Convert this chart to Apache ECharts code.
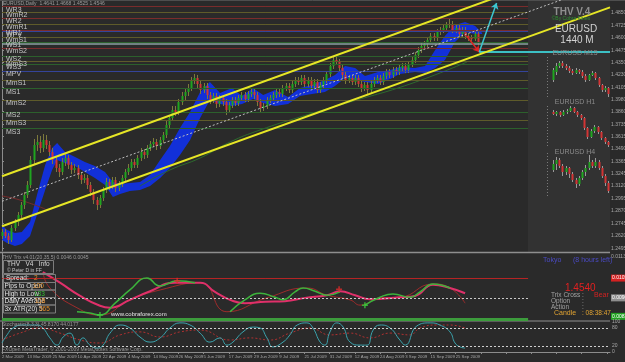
<!DOCTYPE html>
<html><head><meta charset="utf-8">
<script src="https://cdn.jsdelivr.net/npm/echarts@6/dist/echarts.min.js"></script>
<style>html,body{margin:0;padding:0;background:#2a2a2a}#c{width:625px;height:362px}</style>
</head><body><div id="c"></div><script>
// ---------- data ----------
const dateTicks = ["2 Mar 2009","13 Mar 2009","25 Mar 2009","10 Apr 2009","22 Apr 2009","4 May 2009","14 May 2009","26 May 2009","5 Jun 2009","17 Jun 2009","29 Jun 2009","9 Jul 2009","21 Jul 2009","31 Jul 2009","12 Aug 2009","24 Aug 2009","3 Sep 2009","15 Sep 2009","25 Sep 2009"];
const priceTicks = [1.2495,1.2620,1.2745,1.2870,1.2995,1.3120,1.3245,1.3365,1.3490,1.3615,1.3735,1.3860,1.3980,1.4105,1.4230,1.4350,1.4475,1.4600,1.4725,1.4850];
// daily EURUSD candles [open, close, low, high]
const candles = [
[1.2617,1.2657,1.2587,1.2687],[1.2657,1.2617,1.2597,1.2687],[1.2617,1.2577,1.2537,1.2647],[1.2577,1.2697,1.2557,1.2727],
[1.2697,1.2757,1.2667,1.2787],[1.2757,1.2827,1.2717,1.2857],[1.2827,1.2927,1.2797,1.2957],[1.2927,1.3027,1.2887,1.3057],
[1.3027,1.3127,1.2997,1.3167],[1.3127,1.3377,1.3097,1.3417],[1.3377,1.3527,1.3337,1.3587],[1.3527,1.3557,1.3467,1.3627],
[1.3557,1.3497,1.3447,1.3617],[1.3497,1.3577,1.3457,1.3637],[1.3577,1.3527,1.3487,1.3627],[1.3527,1.3457,1.3417,1.3567],
[1.3457,1.3377,1.3337,1.3497],[1.3377,1.3297,1.3257,1.3417],[1.3297,1.3257,1.3207,1.3337],[1.3257,1.3357,1.3227,1.3397],
[1.3357,1.3397,1.3317,1.3437],[1.3397,1.3327,1.3287,1.3427],[1.3327,1.3277,1.3237,1.3357],[1.3277,1.3297,1.3247,1.3337],
[1.3297,1.3227,1.3187,1.3327],[1.3227,1.3177,1.3137,1.3257],[1.3177,1.3197,1.3147,1.3237],[1.3197,1.3127,1.3087,1.3227],
[1.3127,1.3057,1.3017,1.3157],[1.3057,1.2977,1.2937,1.3087],[1.2977,1.2927,1.2877,1.3007],[1.2927,1.2997,1.2897,1.3027],
[1.2997,1.3077,1.2967,1.3107],[1.3077,1.3157,1.3047,1.3197],[1.3157,1.3117,1.3077,1.3187],[1.3117,1.3177,1.3087,1.3207],
[1.3177,1.3097,1.3057,1.3207],[1.3097,1.3137,1.3067,1.3167],[1.3137,1.3197,1.3107,1.3227],[1.3197,1.3257,1.3167,1.3287],
[1.3257,1.3297,1.3227,1.3337],[1.3297,1.3357,1.3267,1.3387],[1.3357,1.3327,1.3297,1.3387],[1.3327,1.3397,1.3297,1.3427],
[1.3397,1.3457,1.3367,1.3497],[1.3457,1.3427,1.3387,1.3487],[1.3427,1.3497,1.3397,1.3527],[1.3497,1.3537,1.3467,1.3567],
[1.3537,1.3557,1.3507,1.3597],[1.3557,1.3517,1.3477,1.3587],[1.3517,1.3577,1.3487,1.3607],[1.3577,1.3627,1.3547,1.3657],
[1.3627,1.3727,1.3597,1.3767],[1.3727,1.3797,1.3697,1.3827],[1.3797,1.3877,1.3767,1.3917],[1.3877,1.3857,1.3817,1.3917],
[1.3857,1.3957,1.3827,1.3987],[1.3957,1.4017,1.3927,1.4057],[1.4017,1.4057,1.3977,1.4097],[1.4057,1.4097,1.4017,1.4137],
[1.4097,1.4177,1.4067,1.4207],[1.4177,1.4197,1.4137,1.4237],[1.4197,1.4137,1.4097,1.4227],[1.4137,1.4077,1.4037,1.4167],
[1.4077,1.4117,1.4047,1.4147],[1.4117,1.4027,1.3987,1.4147],[1.4027,1.3977,1.3937,1.4057],[1.3977,1.4017,1.3947,1.4047],
[1.4017,1.3937,1.3897,1.4047],[1.3937,1.3997,1.3907,1.4027],[1.3997,1.3957,1.3917,1.4027],[1.3957,1.3877,1.3827,1.3987],
[1.3877,1.3927,1.3847,1.3957],[1.3927,1.3977,1.3897,1.4007],[1.3977,1.3947,1.3917,1.4007],[1.3947,1.3997,1.3917,1.4027],
[1.3997,1.4027,1.3967,1.4057],[1.4027,1.3987,1.3957,1.4057],[1.3987,1.4037,1.3957,1.4067],[1.4037,1.4057,1.4007,1.4087],
[1.4057,1.4027,1.3987,1.4087],[1.4027,1.3957,1.3917,1.4057],[1.3957,1.3897,1.3857,1.3987],[1.3897,1.3917,1.3867,1.3947],
[1.3917,1.3977,1.3887,1.4007],[1.3977,1.3997,1.3947,1.4027],[1.3997,1.4027,1.3967,1.4057],[1.4027,1.4057,1.3997,1.4087],
[1.4057,1.4037,1.4007,1.4087],[1.4037,1.4097,1.4007,1.4127],[1.4097,1.4117,1.4067,1.4147],[1.4117,1.4077,1.4047,1.4147],
[1.4077,1.4137,1.4047,1.4167],[1.4137,1.4177,1.4107,1.4207],[1.4177,1.4157,1.4127,1.4207],[1.4157,1.4197,1.4127,1.4227],
[1.4197,1.4137,1.4107,1.4227],[1.4137,1.4177,1.4107,1.4207],[1.4177,1.4117,1.4087,1.4207],[1.4117,1.4157,1.4087,1.4187],
[1.4157,1.4077,1.4047,1.4187],[1.4077,1.4127,1.4047,1.4157],[1.4127,1.4177,1.4097,1.4207],[1.4177,1.4237,1.4147,1.4267],
[1.4237,1.4317,1.4207,1.4347],[1.4317,1.4377,1.4287,1.4407],[1.4377,1.4357,1.4327,1.4417],[1.4357,1.4297,1.4267,1.4387],
[1.4297,1.4227,1.4187,1.4327],[1.4227,1.4177,1.4137,1.4257],[1.4177,1.4197,1.4147,1.4227],[1.4197,1.4157,1.4127,1.4227],
[1.4157,1.4197,1.4127,1.4227],[1.4197,1.4137,1.4107,1.4227],[1.4137,1.4097,1.4057,1.4167],[1.4097,1.4127,1.4067,1.4157],
[1.4127,1.4077,1.4037,1.4157],[1.4077,1.4137,1.4047,1.4167],[1.4137,1.4177,1.4107,1.4207],[1.4177,1.4197,1.4147,1.4227],
[1.4197,1.4157,1.4127,1.4227],[1.4157,1.4217,1.4127,1.4247],[1.4217,1.4257,1.4187,1.4287],[1.4257,1.4227,1.4197,1.4287],
[1.4227,1.4277,1.4197,1.4307],[1.4277,1.4257,1.4227,1.4307],[1.4257,1.4297,1.4227,1.4327],[1.4297,1.4317,1.4267,1.4347],
[1.4317,1.4277,1.4247,1.4347],[1.4277,1.4337,1.4247,1.4367],[1.4337,1.4377,1.4307,1.4407],[1.4377,1.4427,1.4347,1.4457],
[1.4427,1.4477,1.4397,1.4507],[1.4477,1.4517,1.4447,1.4547],[1.4517,1.4537,1.4487,1.4567],[1.4537,1.4577,1.4507,1.4607],
[1.4577,1.4617,1.4547,1.4647],[1.4617,1.4597,1.4567,1.4647],[1.4597,1.4657,1.4567,1.4687],[1.4657,1.4677,1.4627,1.4707],
[1.4677,1.4697,1.4647,1.4727],[1.4697,1.4727,1.4667,1.4757],[1.4727,1.4737,1.4697,1.4787],[1.4737,1.4677,1.4647,1.4767],
[1.4677,1.4697,1.4647,1.4727],[1.4697,1.4637,1.4607,1.4727],[1.4637,1.4677,1.4607,1.4707],[1.4677,1.4617,1.4587,1.4707],
[1.4617,1.4597,1.4567,1.4647],[1.4597,1.4587,1.4557,1.4627],[1.4587,1.4641,1.4567,1.4667],[1.4641,1.4546,1.4525,1.4668]
];
// blue cloud band
const cloudIdx = [0,1.6,4.1,6.3,8.9,11.1,13.7,15.9,17.5,20,23.2,26.3,29.5,32.7,35.2,37.5,40.6,43.8,47,50.2,53.3,56.5,59.7,62.9,66,69.2,73,76.2,79.7,82.9,86.7,90.8,94.6,98.4,102.5,105.7,108.9,112.1,115.2,119.4,123.2,126.3,131.1,134.3,137.5,140.6,143.8,147,150.2,152.4];
const cloudUp = [1.2727,1.2677,1.2647,1.2657,1.2757,1.3027,1.3327,1.3497,1.3547,1.3457,1.3407,1.3357,1.3317,1.3257,1.3157,1.3137,1.3147,1.3157,1.3227,1.3377,1.3517,1.3697,1.3857,1.4057,1.4157,1.4047,1.4097,1.4017,1.4097,1.4027,1.4077,1.4007,1.4097,1.4127,1.4177,1.4227,1.4317,1.4297,1.4217,1.4257,1.4277,1.4307,1.4297,1.4317,1.4477,1.4617,1.4727,1.4757,1.4717,1.4647];
const cloudLo = [1.2577,1.2547,1.2517,1.2537,1.2617,1.2827,1.3077,1.3277,1.3377,1.3347,1.3317,1.3257,1.3197,1.3127,1.3007,1.3037,1.3067,1.3077,1.3117,1.3197,1.3297,1.3427,1.3577,1.3797,1.3977,1.3937,1.3917,1.3937,1.3987,1.3947,1.3917,1.3937,1.4017,1.4037,1.4057,1.4117,1.4197,1.4177,1.4157,1.4137,1.4187,1.4237,1.4257,1.4247,1.4297,1.4377,1.4557,1.4657,1.4637,1.4637];
const maGreenIdx = [43.8,53.3,62.9,72.4,81.9,94.6,110.5,129.5,147.6];
const maGreen = [1.3117,1.3277,1.3397,1.3557,1.3677,1.3807,1.3957,1.4137,1.4357];
const maRedIdx = [0,5.7,13.7];
const maRed = [1.3017,1.2977,1.2887];
const channelIdx = [0,193];
const channelUpper = [1.3214,1.5415];
const channelMid = [1.2964,1.5153];
const channelLower = [1.2714,1.4903];
const pivotNames = ['WR3','WmR2','WR2','WmR1','WR1','WPV','WmS1','WS1','WmS2','WS2','WmS3','WS3','MPV','MmS1','MS1','MmS2','MS2','MmS3','MS3'];
const pivotValues = [1.4912,1.4857,1.4797,1.4737,1.4677,1.4662,1.4607,1.4557,1.4497,1.4417,1.4367,1.4337,1.4267,1.4177,1.4092,1.3977,1.3857,1.3777,1.3692];
const pivotKinds = ['r','o','r','o','r','b','o','g','r','g','o','g','b','o','g','o','g','o','g'];
const bidPrice = 1.4540;
const targetLevel = 1.4455;
const arrowDownIdx = [147.5,151.5], arrowDownVal = [1.4617,1.4457];
const arrowUpIdx = [151.5,157], arrowUpVal = [1.4457,1.4947];
// THV Trix panel
const trixPinkIdx = [13,18.4,24.8,31.1,34.3,40.6,47,54.9,62.9,67.6,72.4,77.1,83.5,89.8,96.2,103.2,107.3,112.1,116.8,126.3,131.1,136.8,142.2,147];
const trixPink = [71,55,35,20,17,29,42,55,55,41,29,24,26,27,32,36,42,36,30,33,35,52,47,39];
const trixGreenIdx = [23.8,27.9,31.1,35.9,40.6,46,50.2,55.6,61.3,66,72.4,77.1,81.9,86.7,89.2,93,95.6,99.4,103.2,107.3,111,115.2,120,124.1,129.5,132.7,136.8,142.2];
const trixGreen = [11,9,6,24,44,62,50,58,55,'-',11,29,39,33,29,41,47,42,36,41,'-',21,33,38,33,41,53,47];
const trixRedIdx = [13,15.2,23.8,31.1,40.6,50.2,62.9,71.4,84.1,96.8,103.2,110.5,113.7,120,126.3,136.8,142.2,147];
const trixRed = [71,47,17,6,29,44,55,11,32,47,36,29,21,32,33,53,47,24];
const trixCrossIdx = [31.1,55.6,107,115.2];
const trixCrossVal = [6,58,45,21];
const trixCrossUp = [true,false,false,true];
const trixLevels = [62,32,0];
const trixAxisVals = [95,62,32,4];
const trixAxisText = ['0.01133','0.01058','0.00906','0.00829'];
// Stochastic panel
const stochIdx = [0,1.6,3.5,6.7,11.1,13,15.2,17.5,19.4,21.6,23.8,25.7,27.9,30.2,32.1,34.3,37.5,40.6,43.8,47,50.2,53.3,56.5,59.7,62.9,66,69.2,71.4,73.3,76.5,79.7,81.9,84.1,86,89.2,91.4,93.7,96.8,98.7,101,102.5,104.1,106.3,108.3,110.5,113.7,115.9,117.8,120,123.2,126.3,128,131.7,135.9,139,142.2,143.8,145.4,147];
const stochMain = [30,57,80,90,90,80,47,23,50,63,23,47,23,13,23,63,90,80,50,33,47,80,97,90,63,33,47,23,33,67,83,80,47,17,33,57,90,97,80,33,23,67,97,83,33,23,23,73,90,80,40,23,87,97,90,67,30,17,13];
const stochSigIdx = [0,5.7,12.1,18.4,24.8,31.1,37.5,43.8,50.2,56.5,62.9,72.4,78.7,85.1,91.4,97.8,104.1,110.5,116.8,123.2,129.5,132.7,138.1,142.2,147];
const stochSignal = [40,63,80,63,40,30,57,67,50,67,73,40,47,40,63,80,57,63,47,63,57,80,90,90,80];
const stochLevels = [80,20];
const stochAxisVals = [100,80,20,0];
// mini charts [open, close, low, high]
const m15 = [[1.4574,1.4604,1.4568,1.4610],[1.4598,1.4616,1.4589,1.4625],[1.4616,1.4625,1.4610,1.4631],[1.4625,1.4616,1.4610,1.4631],[1.4616,1.4610,1.4604,1.4622],[1.4610,1.4601,1.4595,1.4616],[1.4601,1.4595,1.4589,1.4607],[1.4595,1.4604,1.4592,1.4610],[1.4604,1.4598,1.4592,1.4607],[1.4598,1.4586,1.4580,1.4604],[1.4586,1.4574,1.4568,1.4592],[1.4574,1.4589,1.4571,1.4592],[1.4589,1.4595,1.4586,1.4601],[1.4595,1.4580,1.4574,1.4598],[1.4580,1.4559,1.4553,1.4583],[1.4559,1.4544,1.4538,1.4562],[1.4544,1.4550,1.4538,1.4556],[1.4550,1.4532,1.4523,1.4553]];
const h1 = [[1.4670,1.4660,1.4655,1.4680],[1.4660,1.4670,1.4650,1.4675],[1.4670,1.4655,1.4645,1.4675],[1.4655,1.4670,1.4650,1.4680],[1.4670,1.4675,1.4660,1.4685],[1.4675,1.4690,1.4670,1.4700],[1.4690,1.4670,1.4665,1.4695],[1.4670,1.4655,1.4645,1.4675],[1.4655,1.4640,1.4630,1.4660],[1.4640,1.4590,1.4580,1.4645],[1.4590,1.4545,1.4535,1.4595],[1.4545,1.4575,1.4540,1.4585],[1.4575,1.4595,1.4565,1.4605],[1.4595,1.4570,1.4560,1.4600],[1.4570,1.4540,1.4530,1.4575],[1.4540,1.4520,1.4510,1.4545],[1.4520,1.4505,1.4495,1.4525]];
const h4 = [[1.4600,1.4648,1.4584,1.4680],[1.4648,1.4680,1.4600,1.4704],[1.4680,1.4632,1.4616,1.4696],[1.4632,1.4584,1.4552,1.4648],[1.4584,1.4616,1.4560,1.4632],[1.4616,1.4568,1.4536,1.4624],[1.4568,1.4520,1.4504,1.4584],[1.4520,1.4488,1.4456,1.4536],[1.4488,1.4536,1.4472,1.4552],[1.4536,1.4584,1.4520,1.4600],[1.4584,1.4616,1.4552,1.4640],[1.4616,1.4664,1.4600,1.4720],[1.4664,1.4632,1.4616,1.4680],[1.4632,1.4664,1.4616,1.4696],[1.4664,1.4616,1.4600,1.4680],[1.4616,1.4552,1.4536,1.4632],[1.4552,1.4496,1.4472,1.4568],[1.4496,1.4432,1.4416,1.4512]];

// ---------- chart ----------
const FONT = "'Liberation Sans', Arial, sans-serif";
const X_MAX = 193, PANEL_END = 167;
const UP = '#1fa51f', DOWN = '#d23434';
const pivotColor = {r:'#7a2c2c', o:'#5e5b2a', b:'#34449a', g:'#2c602c'};
const zip = (a, b) => a.map((x, i) => [x, b[i]]);

function candleRender(wick, bw) {
  return function (params, api) {
    const x = api.value(0), o = api.value(1), c = api.value(2), l = api.value(3), h = api.value(4);
    const po = api.coord([x, o]), pc = api.coord([x, c]), pl = api.coord([x, l]), ph = api.coord([x, h]);
    const cx = Math.round(po[0]) + 0.5;
    const top = Math.min(po[1], pc[1]);
    const hh = Math.max(1, Math.abs(po[1] - pc[1]));
    return {type: 'group', children: [
      {type: 'line', shape: {x1: cx, y1: ph[1], x2: cx, y2: pl[1]}, style: {stroke: wick, lineWidth: 1}},
      {type: 'rect', shape: {x: cx - bw / 2, y: top, width: bw, height: hh}, style: {fill: c >= o ? UP : DOWN}}
    ]};
  };
}

const gridBase = {outerBoundsMode: 'none', containLabel: false, show: false};
const hiddenX = (g, mn, mx) => ({gridIndex: g, type: 'value', min: mn, max: mx, show: false});
const mainX = g => ({gridIndex: g, type: 'value', min: 0, max: X_MAX, interval: 8, show: false, splitLine: {show: false}});

const chart = echarts.init(document.getElementById('c'), null, {renderer: 'canvas', width: 625, height: 362});

const pivotData = pivotNames.map((n, i) => [
  {coord: [0, pivotValues[i]], lineStyle: {color: pivotColor[pivotKinds[i]], width: 1, type: 'solid'}, label: {formatter: n}},
  {coord: [PANEL_END, pivotValues[i]]}
]);

const txt = (x, y, text, fill, size, extra) => Object.assign({
  type: 'text', x: x, y: y, z: 10,
  style: Object.assign({text: text, fill: fill, fontSize: size, fontFamily: FONT, verticalAlign: 'middle', textVerticalAlign: 'middle'}, extra || {})
});
const hline = (x1, x2, y, color, w, dash) => ({type: 'line', z: 5, shape: {x1: x1, y1: y, x2: x2, y2: y}, style: {stroke: color, lineWidth: w || 1, lineDash: dash || null}});
const vline = (x, y1, y2, color, dash) => ({type: 'line', z: 5, shape: {x1: x, y1: y1, x2: x, y2: y2}, style: {stroke: color, lineWidth: 1, lineDash: dash || null}});
const box = (x, y, w, h) => ({type: 'rect', z: 6, shape: {x: x, y: y, width: w, height: h}, style: {fill: 'none', stroke: '#7c7c7c', lineWidth: 1}});

const option = {
  backgroundColor: '#2a2a2a',
  animation: false,
  grid: [
    Object.assign({left: 2, top: 0, width: 608, height: 251}, gridBase),
    Object.assign({left: 2, top: 253, width: 608, height: 66}, gridBase),
    Object.assign({left: 2, top: 322, width: 608, height: 30}, gridBase),
    Object.assign({left: 551, top: 58, width: 59, height: 40}, gridBase),
    Object.assign({left: 551, top: 106, width: 59, height: 42}, gridBase),
    Object.assign({left: 551, top: 153, width: 59, height: 44}, gridBase)
  ],
  xAxis: [
    mainX(0), mainX(1),
    {gridIndex: 2, type: 'value', min: 0, max: X_MAX, interval: 8, splitLine: {show: false},
     axisLine: {show: true, onZero: false, lineStyle: {color: '#8c8c8c'}},
     axisTick: {show: true, length: 2, lineStyle: {color: '#8c8c8c'}},
     axisLabel: {show: true, align: 'left', fontSize: 4.3, color: '#a8a8a8', fontFamily: FONT, margin: 3,
       showMinLabel: true, showMaxLabel: false,
       formatter: v => { const k = Math.round(v / 8); return (Math.abs(v - k * 8) < 1e-6 && dateTicks[k]) ? dateTicks[k] : ''; }}},
    hiddenX(3, -0.5, m15.length - 0.5), hiddenX(4, -0.5, h1.length - 0.5), hiddenX(5, -0.5, h4.length - 0.5)
  ],
  yAxis: [
    {gridIndex: 0, type: 'value', position: 'right', min: 1.2467, max: 1.4977, splitLine: {show: false},
     axisLine: {show: true, lineStyle: {color: '#8c8c8c'}},
     axisTick: {show: true, length: 2, customValues: priceTicks, lineStyle: {color: '#8c8c8c'}},
     axisLabel: {customValues: priceTicks, formatter: v => v.toFixed(4), fontSize: 5, color: '#a8a8a8', fontFamily: FONT, margin: 1}},
    {gridIndex: 1, type: 'value', position: 'right', min: 0, max: 100, splitLine: {show: false},
     axisLine: {show: true, lineStyle: {color: '#8c8c8c'}}, axisTick: {show: false},
     axisLabel: {customValues: trixAxisVals, margin: 1, fontFamily: FONT,
       formatter: v => { const k = trixAxisVals.indexOf(v); return '{' + ['p', 'r', 'g', 'n'][k] + '|' + trixAxisText[k] + '}'; },
       rich: {p: {color: '#a8a8a8', fontSize: 5}, r: {color: '#fff', fontSize: 5, backgroundColor: '#d42222', padding: [1, 1]},
              g: {color: '#fff', fontSize: 5, backgroundColor: '#8e8e8e', padding: [1, 1]}, n: {color: '#fff', fontSize: 5, backgroundColor: '#22a022', padding: [1, 1]}}}},
    {gridIndex: 2, type: 'value', position: 'right', min: 0, max: 100, splitLine: {show: false},
     axisLine: {show: true, lineStyle: {color: '#8c8c8c'}}, axisTick: {show: false},
     axisLabel: {customValues: stochAxisVals, fontSize: 5, color: '#a8a8a8', fontFamily: FONT, margin: 2}},
    {gridIndex: 3, type: 'value', min: 1.4520, max: 1.4640, show: false},
    {gridIndex: 4, type: 'value', min: 1.4490, max: 1.4700, show: false},
    {gridIndex: 5, type: 'value', min: 1.4384, max: 1.4736, show: false}
  ],
  series: [
    {type: 'custom', name: 'cloud', xAxisIndex: 0, yAxisIndex: 0, z: 2, silent: true,
     data: cloudIdx.map((x, i) => [x, cloudUp[i], cloudLo[i]]), encode: {x: 0, y: [1, 2]},
     renderItem: (params, api) => {
       if (params.dataIndex !== 0) return;
       const pts = [];
       cloudIdx.forEach((x, i) => pts.push(api.coord([x, cloudUp[i]])));
       for (let i = cloudIdx.length - 1; i >= 0; i--) pts.push(api.coord([cloudIdx[i], cloudLo[i]]));
       return {type: 'polygon', shape: {points: pts}, style: {fill: '#1230d8'}};
     }},
    {type: 'line', name: 'maGreen', xAxisIndex: 0, yAxisIndex: 0, z: 2, data: zip(maGreenIdx, maGreen), smooth: true, showSymbol: false, silent: true,
     lineStyle: {color: '#2d6b2d', width: 1},
     markLine: {silent: true, symbol: 'none', animation: false,
       label: {show: true, position: 'insideStartBottom', color: '#c6c6c6', fontSize: 7, fontFamily: FONT, distance: [4, 0]},
       data: pivotData}},
    {type: 'line', name: 'maRed', xAxisIndex: 0, yAxisIndex: 0, z: 2, data: zip(maRedIdx, maRed), smooth: true, showSymbol: false, silent: true,
     lineStyle: {color: '#7a2a2a', width: 1}},
    {type: 'custom', name: 'EURUSD Daily', xAxisIndex: 0, yAxisIndex: 0, z: 4, silent: true,
     data: candles.map((r, i) => [i, r[0], r[1], r[2], r[3]]), encode: {x: 0, y: [1, 2, 3, 4]},
     renderItem: candleRender('#7d7a3c', 2)},
    {type: 'line', name: 'chanUpper', xAxisIndex: 0, yAxisIndex: 0, z: 5, data: zip(channelIdx, channelUpper), showSymbol: false, silent: true,
     lineStyle: {color: '#e6e626', width: 2}},
    {type: 'line', name: 'chanLower', xAxisIndex: 0, yAxisIndex: 0, z: 5, data: zip(channelIdx, channelLower), showSymbol: false, silent: true,
     lineStyle: {color: '#e6e626', width: 2}},
    {type: 'line', name: 'chanMid', xAxisIndex: 0, yAxisIndex: 0, z: 5, data: zip(channelIdx, channelMid), showSymbol: false, silent: true,
     lineStyle: {color: '#bdbdbd', width: 1, type: [2, 2]},
     markLine: {silent: true, animation: false, symbol: 'none',
       data: [
         [{coord: [0, bidPrice], lineStyle: {color: '#8aa0a0', width: 1.5, type: 'solid'}, label: {show: false}}, {coord: [PANEL_END, bidPrice]}],
         [{coord: [PANEL_END, bidPrice], lineStyle: {opacity: 0}, label: {show: true, position: 'end', formatter: bidPrice.toFixed(4), backgroundColor: '#a6a6a6', color: '#1e1e1e', fontSize: 5, fontFamily: FONT, padding: [1, 1], distance: 2}}, {coord: [X_MAX, bidPrice]}],
         [{coord: [arrowDownIdx[1], targetLevel], lineStyle: {color: '#3cc0c4', width: 2, type: 'solid'}, label: {show: false}}, {coord: [X_MAX, targetLevel]}],
         [{coord: [arrowDownIdx[0], arrowDownVal[0]], lineStyle: {color: '#e02424', width: 1.5, type: 'solid'}, symbol: 'none', label: {show: false}}, {coord: [arrowDownIdx[1], arrowDownVal[1]], symbol: 'arrow', symbolSize: 6}],
         [{coord: [arrowUpIdx[0], arrowUpVal[0]], lineStyle: {color: '#3cc6d0', width: 1.5, type: 'solid'}, symbol: 'none', label: {show: false}}, {coord: [arrowUpIdx[1], arrowUpVal[1]], symbol: 'arrow', symbolSize: 6}]
       ]}},
    // Trix panel
    {type: 'line', name: 'trixRed', xAxisIndex: 1, yAxisIndex: 1, z: 3, data: zip(trixRedIdx, trixRed), smooth: true, showSymbol: false, silent: true,
     lineStyle: {color: '#a02a2a', width: 1},
     markLine: {silent: true, animation: false, symbol: 'none', label: {show: false},
       data: [
         [{coord: [0, trixLevels[0]], lineStyle: {color: '#b52424', width: 1, type: 'solid'}}, {coord: [PANEL_END, trixLevels[0]]}],
         [{coord: [0, trixLevels[1]], lineStyle: {color: '#c8c8c8', width: 1, type: [2, 2]}}, {coord: [PANEL_END, trixLevels[1]]}],
         [{coord: [0, trixLevels[2]], lineStyle: {color: '#3c9c3c', width: 3, type: 'solid'}}, {coord: [PANEL_END, trixLevels[2]]}]
       ]}},
    {type: 'line', name: 'trixPink', xAxisIndex: 1, yAxisIndex: 1, z: 4, data: zip(trixPinkIdx, trixPink), smooth: true, showSymbol: false, silent: true,
     lineStyle: {color: '#e0306a', width: 2}},
    {type: 'line', name: 'trixGreen', xAxisIndex: 1, yAxisIndex: 1, z: 5, data: zip(trixGreenIdx, trixGreen), smooth: true, showSymbol: false, silent: true, connectNulls: false,
     lineStyle: {color: '#3cb43c', width: 1.5}},
    {type: 'scatter', name: 'trixCross', xAxisIndex: 1, yAxisIndex: 1, z: 6, silent: true,
     symbol: 'path://M-1,-4H1V-1H4V1H1V4H-1V1H-4V-1H-1Z', symbolSize: 6,
     data: trixCrossIdx.map((x, i) => ({value: [x, trixCrossVal[i]], itemStyle: {color: trixCrossUp[i] ? '#3cd03c' : '#e02a2a'}}))},
    // Stochastic panel
    {type: 'line', name: 'stochSignal', xAxisIndex: 2, yAxisIndex: 2, z: 3, data: zip(stochSigIdx, stochSignal), smooth: true, showSymbol: false, silent: true,
     lineStyle: {color: '#b03030', width: 1, type: [2, 2]},
     markLine: {silent: true, animation: false, symbol: 'none', label: {show: false},
       data: stochLevels.map(v => [{coord: [0, v], lineStyle: {color: '#cfcfcf', width: 1, type: [2, 2]}}, {coord: [X_MAX, v]}])}},
    {type: 'line', name: 'stochMain', xAxisIndex: 2, yAxisIndex: 2, z: 4, data: zip(stochIdx, stochMain), smooth: true, showSymbol: false, silent: true,
     lineStyle: {color: '#3ba4ae', width: 1}},
    // mini charts
    {type: 'custom', name: 'M15', xAxisIndex: 3, yAxisIndex: 3, z: 4, silent: true,
     data: m15.map((r, i) => [i, r[0], r[1], r[2], r[3]]), encode: {x: 0, y: [1, 2, 3, 4]}, renderItem: candleRender('#9a9a9a', 2)},
    {type: 'custom', name: 'H1', xAxisIndex: 4, yAxisIndex: 4, z: 4, silent: true,
     data: h1.map((r, i) => [i, r[0], r[1], r[2], r[3]]), encode: {x: 0, y: [1, 2, 3, 4]}, renderItem: candleRender('#9a9a9a', 2)},
    {type: 'custom', name: 'H4', xAxisIndex: 5, yAxisIndex: 5, z: 4, silent: true,
     data: h4.map((r, i) => [i, r[0], r[1], r[2], r[3]]), encode: {x: 0, y: [1, 2, 3, 4]}, renderItem: candleRender('#9a9a9a', 2)}
  ],
  graphic: {elements: [
    {type: 'rect', z: -10, shape: {x: 528, y: 0, width: 82, height: 252}, style: {fill: '#323232'}},
    hline(0, 625, 0.5, '#4e4e4e'),
    hline(0, 610, 252.5, '#8e8e8e', 1.5),
    hline(0, 610, 321, '#8e8e8e'),
    txt(3, 3.5, 'EURUSD,Daily  1.4641 1.4668 1.4525 1.4546', '#9c9c9c', 5),
    txt(572, 12.5, 'THV V.4', '#8f8f8f', 10, {fontWeight: 'bold', align: 'center', textAlign: 'center'}),
    txt(571, 18.5, '©By Cobra Forex', '#2f8f2f', 5, {align: 'center', textAlign: 'center'}),
    txt(576, 29, 'EURUSD', '#d2d2d2', 10, {align: 'center', textAlign: 'center'}),
    txt(577, 40, '1440 M', '#d2d2d2', 10, {align: 'center', textAlign: 'center'}),
    txt(575, 53, 'EURUSD M15', '#8a8a8a', 7, {align: 'center', textAlign: 'center'}),
    txt(575, 102.5, 'EURUSD H1', '#8a8a8a', 7, {align: 'center', textAlign: 'center'}),
    txt(575, 152, 'EURUSD H4', '#8a8a8a', 7, {align: 'center', textAlign: 'center'}),
    vline(547.5, 57, 98, '#7a7a7a', [1, 2]),
    vline(547.5, 106, 148, '#7a7a7a', [1, 2]),
    vline(547.5, 153, 198, '#7a7a7a', [1, 2]),
    // trix info table
    txt(2, 257.5, 'THV Trix v4.01(20,35,5) 0.0046 0.0045', '#9a9a9a', 5),
    box(3.5, 260.5, 50, 13),
    txt(7, 264, 'THV   V4   Info', '#d8d8d8', 6.5),
    txt(7, 270.5, '© Peter D in FF', '#c4c4c4', 5),
    box(3.5, 274.5, 52, 8), box(3.5, 282.5, 52, 7.5), box(3.5, 290, 52, 7.5), box(3.5, 297.5, 52, 7.5), box(3.5, 305, 52, 8),
    txt(6, 278.5, 'Spread:', '#e2e2e2', 6.5), txt(34, 278.5, '2', '#e28c28', 6.5),
    txt(4.5, 286.3, 'Pips to Open', '#e2e2e2', 6.5), txt(33, 286.3, '100', '#e28c28', 6.5),
    txt(4.5, 293.8, 'High to Low', '#e2e2e2', 6.5), txt(34, 293.8, '133', '#34c234', 6.5),
    txt(4.5, 301.3, 'Daily Average', '#e2e2e2', 6.5), txt(35, 301.3, '118', '#e28c28', 6.5),
    txt(4.5, 309, '3x ATR(20) 5', '#e2e2e2', 6.5), txt(39, 309, '365', '#e28c28', 6.5),
    txt(111, 314, 'www.cobraforex.com', '#e6e6e6', 6),
    txt(543, 260, 'Tokyo', '#4a4ac4', 7),
    txt(573, 260, '(8 hours left)', '#4a4ac4', 7),
    txt(565, 288.5, '1.4540', '#e22020', 10),
    txt(551, 295.5, 'Trix Cross', '#a2a2a2', 6.5), txt(582, 295.5, ':', '#a2a2a2', 6.5), txt(594, 295.5, 'Bear', '#d42222', 7),
    txt(551, 301.5, 'Option', '#a2a2a2', 6.5), txt(582, 301.5, ':', '#a2a2a2', 6.5),
    txt(551, 307.5, 'Action', '#a2a2a2', 6.5), txt(582, 307.5, ':', '#a2a2a2', 6.5),
    txt(554, 313.5, 'Candle', '#e2a432', 7), txt(582, 313.5, ': 08:38:47', '#e2a432', 6.5),
    // stochastic
    txt(2, 324.5, 'Stochastic(8,3,3) 45.8170 44.0177', '#9a9a9a', 5),
    txt(2, 349.5, 'FXOpen MetaTrader, © 2001-2009 MetaQuotes Software Corp.', '#9a9a9a', 5)
  ]}
};
chart.setOption(option);
</script></body></html>
